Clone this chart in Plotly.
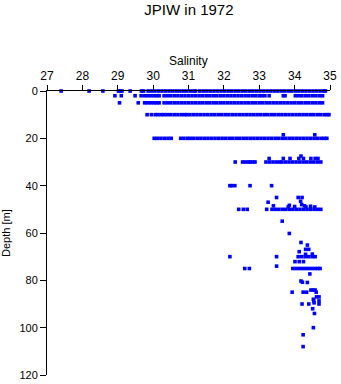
import plotly.graph_objects as go

sal_0m = [27.40, 28.19, 28.58, 29.02, 29.07, 29.12, 29.35, 29.67, 29.73,
          29.86, 29.95, 30.05, 30.15, 30.25, 30.35, 30.45, 30.55, 30.65, 30.75,
          30.85, 30.95, 31.05, 31.15, 31.20,
          31.32, 31.42, 31.52, 31.62, 31.72, 31.82, 31.92, 32.02, 32.12, 32.22,
          32.32, 32.42, 32.52, 32.62, 32.72, 32.82, 32.92, 33.02, 33.12, 33.22,
          33.32, 33.42, 33.52, 33.62, 33.72, 33.82, 33.92, 34.02, 34.12, 34.22,
          34.32, 34.42, 34.52, 34.62, 34.72, 34.82, 34.87]

sal_2m = [28.92, 29.10, 29.49, 29.66, 29.76,
          29.84, 29.93, 30.02, 30.10, 30.17,
          30.31, 30.40, 30.50, 30.60, 30.70, 30.80, 30.90, 31.00, 31.10, 31.20,
          31.30, 31.40, 31.50, 31.60, 31.70, 31.80, 31.90, 32.00, 32.10, 32.20,
          32.30, 32.40, 32.50, 32.60, 32.70, 32.80, 32.90, 33.00, 33.08, 33.16,
          33.28, 33.68, 33.73,
          34.02, 34.11, 34.20, 34.30, 34.40, 34.50, 34.60, 34.70, 34.79]

sal_5m = [29.05, 29.58, 29.76,
          29.84, 29.93, 30.02, 30.10, 30.17,
          30.31, 30.40, 30.50, 30.60, 30.70, 30.80, 30.90, 31.00, 31.10, 31.20,
          31.30, 31.40, 31.50, 31.60, 31.70, 31.80, 31.90, 32.00, 32.10, 32.20,
          32.30, 32.40, 32.50, 32.60, 32.70, 32.80, 32.90, 33.00, 33.10, 33.20,
          33.30, 33.40, 33.50, 33.60, 33.70, 33.80, 33.90, 34.00, 34.10, 34.20,
          34.30, 34.40, 34.50, 34.60, 34.70, 34.79]

sal_10m = [29.83, 29.95, 30.06, 30.14, 30.23,
           30.31, 30.40, 30.50, 30.60, 30.70, 30.80, 30.89,
           30.95, 31.04, 31.14, 31.24, 31.34, 31.44, 31.54, 31.64, 31.74, 31.84,
           31.94, 32.04, 32.14, 32.24, 32.34, 32.44, 32.54, 32.64, 32.74, 32.84,
           32.94, 33.04, 33.14, 33.24, 33.34, 33.44, 33.54, 33.64, 33.74, 33.84,
           33.94, 34.04, 34.14, 34.24, 34.34, 34.44, 34.54, 34.64, 34.74, 34.84,
           34.92, 34.97]

sal_20m = [30.03, 30.12, 30.22, 30.32, 30.42, 30.51,
           30.78, 30.87, 30.97, 31.05, 31.15, 31.25, 31.35, 31.45, 31.55, 31.65,
           31.75, 31.85, 31.95, 32.05, 32.15, 32.25, 32.35, 32.45, 32.55, 32.65,
           32.75, 32.85, 32.95, 33.05, 33.15, 33.25, 33.35, 33.45, 33.55, 33.65,
           33.75, 33.85, 33.95, 34.05, 34.15, 34.25, 34.35, 34.45, 34.55, 34.65,
           34.75, 34.84, 34.91]

sal_30m = [32.32, 32.53, 32.61, 32.70, 32.75, 32.82, 32.88,
           33.19, 33.29, 33.39, 33.49, 33.58,
           33.64, 33.74, 33.84, 33.94, 34.04, 34.14, 34.24, 34.34, 34.44, 34.54,
           34.64, 34.74]

sal_40m = [32.17, 32.22, 32.31, 32.74, 33.35]

sal_50m = [32.42, 32.55, 32.66, 33.21,
           33.36, 33.45, 33.55, 33.65, 33.75, 33.85, 33.95, 34.05, 34.15, 34.25,
           34.35, 34.45, 34.55, 34.65, 34.74]

sal_70m = [32.17, 33.49, 34.10, 34.20, 34.30, 34.40, 34.50, 34.58]

sal_75m = [32.59, 32.72, 33.95, 34.04, 34.13, 34.22, 34.31, 34.40, 34.49,
           34.58, 34.66, 34.72]

# isolated samples (salinity, depth)
sal_other = [33.68, 34.57,
             33.28, 33.68, 33.87, 34.12, 34.25, 34.46, 34.58, 34.66, 34.18,
             33.49, 34.10, 34.21, 33.25, 34.17, 34.20,
             33.82, 34.32, 34.57, 33.40, 33.85, 34.00, 34.28, 34.45,
             33.65, 33.85, 34.18, 34.36, 34.31, 34.40, 34.13, 34.31, 34.50,
             34.01, 34.13, 34.25, 33.49, 34.43,
             34.18, 34.36, 34.22,
             34.46, 34.52, 34.58, 33.93, 34.24, 34.34, 34.61,
             34.62, 34.69, 34.53, 34.54, 34.69, 34.55,
             34.21, 34.40, 34.69, 34.51, 34.56, 34.53, 34.24, 34.24]
depth_other = [18.5, 18.5,
               28.5, 28.5, 28.5, 28.5, 28.5, 28.5, 28.5, 28.5, 27.5,
               45.0, 45.0, 45.0, 47.0, 46.6, 48.0,
               49.0, 49.0, 49.0, 48.5, 48.3, 48.8, 48.5, 48.7,
               55.0, 60.2, 64.0, 65.1, 66.9, 66.9, 67.9, 69.0, 68.9,
               72.1, 72.1, 72.1, 74.0, 77.3,
               80.3, 80.9, 80.8,
               84.1, 84.1, 84.1, 85.0, 85.0, 85.0, 85.0,
               87.0, 87.0, 88.0, 88.7, 88.7, 89.5,
               90.0, 90.0, 90.0, 92.0, 94.0, 100.0, 103.0, 108.0]

x_ticks = [27, 28, 29, 30, 31, 32, 33, 34, 35]
y_ticks = [0, 20, 40, 60, 80, 100, 120]

levels = [(0, sal_0m), (2, sal_2m), (5, sal_5m), (10, sal_10m), (20, sal_20m),
          (30, sal_30m), (40, sal_40m), (50, sal_50m), (70, sal_70m), (75, sal_75m)]

xs, ys = [], []
for d, vals in levels:
    xs += vals
    ys += [d] * len(vals)
xs += sal_other
ys += depth_other

FONT = "Liberation Sans"

fig = go.Figure()
fig.add_trace(go.Scatter(
    x=xs, y=ys, mode="markers",
    marker=dict(symbol="square", size=3.6, color="#0000ff", line=dict(width=0)),
    cliponaxis=False, showlegend=False, hoverinfo="x+y"))

fig.update_layout(
    width=341, height=384,
    margin=dict(l=47, r=11, t=91, b=9, autoexpand=False),
    paper_bgcolor="white", plot_bgcolor="white",
    font=dict(family=FONT, color="black"),
    title=dict(text="JPIW in 1972", x=0.554, xanchor="center",
               y=1 - 10 / 384, yanchor="middle",
               font=dict(family=FONT, size=15, color="black")),
    xaxis=dict(range=[27, 35], side="top", tickmode="array", tickvals=x_ticks,
               ticks="outside", ticklen=5, tickcolor="black", tickwidth=1,
               showline=True, linecolor="black", linewidth=1,
               showgrid=False, zeroline=False, automargin=False,
               tickfont=dict(family=FONT, size=12, color="black")),
    yaxis=dict(range=[120, 0], tickmode="array", tickvals=y_ticks,
               ticks="outside", ticklen=6, tickcolor="black", tickwidth=1,
               showline=True, linecolor="black", linewidth=1,
               showgrid=False, zeroline=False, automargin=False,
               tickfont=dict(family=FONT, size=11, color="black")),
    annotations=[
        dict(text="Salinity", xref="paper", yref="paper", x=0.5,
             y=(375 - 61) / 284, xanchor="center", yanchor="middle",
             showarrow=False, font=dict(family=FONT, size=12, color="black")),
        dict(text="Depth [m]", xref="paper", yref="paper", x=(6 - 47) / 283,
             y=0.5, xanchor="center", yanchor="middle", textangle=-90,
             showarrow=False, font=dict(family=FONT, size=11, color="black")),
    ],
)

fig.write_html("out.html")
